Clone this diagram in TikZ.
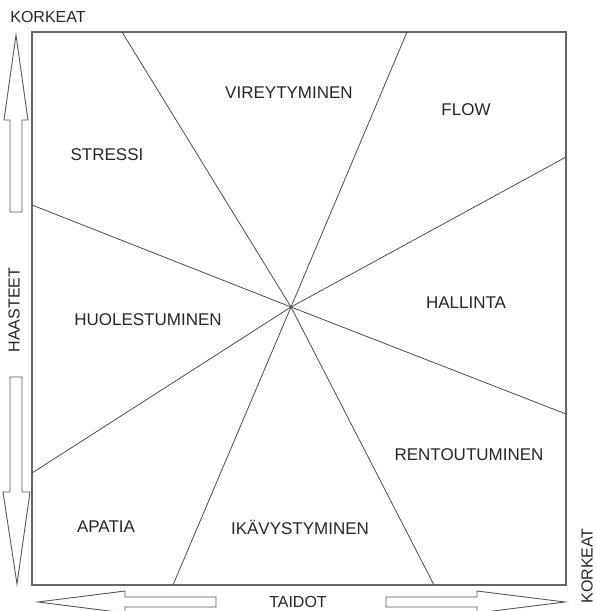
\documentclass[tikz,border=0pt]{standalone}
\usepackage{fontspec}
\setmainfont{Liberation Sans}
\begin{document}
\begin{tikzpicture}
    [x=1pt,y=-1pt,
     zone/.style={font=\fontsize{17}{20}\selectfont,text=black!85},
     axis/.style={font=\fontsize{16}{19}\selectfont,text=black!85,inner sep=1pt},
     divider/.style={draw=black!70,line width=0.8pt},
     bigarrow/.style={draw=black!65,line width=0.9pt,fill=white}]
    \useasboundingbox (0,0) rectangle (596,611);
    \draw[black!60,line width=1.4pt] (32,32) rectangle (566,585);
    \coordinate (mid) at (291,307);
    \coordinate (t1) at (122,32);
    \coordinate (t2) at (407,32);
    \coordinate (l1) at (32,205);
    \coordinate (l2) at (32,473);
    \coordinate (b1) at (173,585);
    \coordinate (b2) at (434,585);
    \coordinate (r1) at (566,157);
    \coordinate (r2) at (566,414);
    \foreach \p in {t1,t2,l1,l2,b1,b2,r1,r2}
        \draw[divider] (mid) -- (\p);
    % arrows on the axes
    \draw[bigarrow] (16,35) -- (28,120) -- (22,120) -- (22,212) -- (10,212)
        -- (10,120) -- (4,120) -- cycle;
    \draw[bigarrow] (17,584) -- (30,492) -- (22,492) -- (22,377) -- (10,377)
        -- (10,492) -- (3,492) -- cycle;
    \draw[bigarrow] (38,602) -- (125,591) -- (125,597) -- (216,597) -- (216,607)
        -- (125,607) -- (125,613) -- cycle;
    \draw[bigarrow] (565,602) -- (477,591) -- (477,597) -- (386,597) -- (386,607)
        -- (477,607) -- (477,613) -- cycle;
    \node[zone] (vire) at (289,93) {VIREYTYMINEN};
    \node[zone] (flow) at (466,110) {FLOW};
    \node[zone] (stre) at (107,155) {STRESSI};
    \node[zone] (huol) at (148,320) {HUOLESTUMINEN};
    \node[zone] (hall) at (466,303) {HALLINTA};
    \node[zone] (rent) at (469,455) {RENTOUTUMINEN};
    \node[zone] (apat) at (106,527) {APATIA};
    \node[zone] (ikav) at (300,527) {IKÄVYSTYMINEN};
    \node[axis] (korkea) at (48,17) {KORKEAT};
    \node[axis,rotate=90] (haas) at (14,310) {HAASTEET};
    \node[axis] (taid) at (298,602) {TAIDOT};
    \node[axis,rotate=90] (korkeb) at (587,566) {KORKEAT};
\end{tikzpicture}
\end{document}
